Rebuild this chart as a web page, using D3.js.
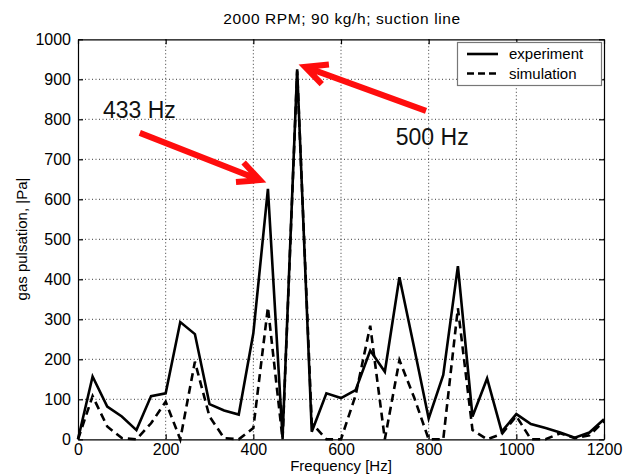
<!DOCTYPE html>
<html><head><meta charset="utf-8">
<script src="https://cdn.jsdelivr.net/npm/d3@7"></script>
<style>body{margin:0;background:#fff}svg{display:block}text{font-family:"Liberation Sans",Arial,sans-serif;fill:#000}</style>
</head><body><div id="chart"></div>
<script>
const freqs = [0,33.3,66.7,100,133.3,166.7,200,233.3,266.7,300,333.3,366.7,400,433.3,466.7,500,533.3,566.7,600,633.3,666.7,700,733.3,766.7,800,833.3,866.7,900,933.3,966.7,1000,1033.3,1066.7,1100,1133.3,1166.7,1200];
const experiment = [0,157,82,57,23,108,115,293,263,88,72,62,265,626,5,925,19,115,103,123,222,169,405,230,52,161,433,57,152,19,63,38,28,17,4,17,50];
const simulation = [0,108,32,3,0,40,94,0,194,57,3,0,28,330,0,920,40,0,0,110,284,0,198,105,0,0,328,23,0,13,58,0,0,15,3,10,45];
const xTicks = [0,200,400,600,800,1000,1200];
const yTicks = [0,100,200,300,400,500,600,700,800,900,1000];
const seriesNames = ["experiment","simulation"];
const titleText = "2000 RPM; 90 kg/h; suction line";
const xLabel = "Frequency [Hz]";
const yLabel = "gas pulsation, |Pa|";
// annotations in data coordinates
const annoLabels = [{text:"433 Hz", x:57, y:803},{text:"500 Hz", x:725, y:736}];
const annoArrows = [{x0:141,y0:766,x1:415,y1:648},{x0:794,y0:821,x1:518,y1:931}];

const W=624,H=475, L=78, R=604, T=39.3, B=439.3;
const svg = d3.select("#chart").append("svg").attr("width",W).attr("height",H);
const x = d3.scaleLinear().domain([0,1200]).range([L,R]);
const y = d3.scaleLinear().domain([0,1000]).range([B,T]);

// grid
const g = svg.append("g");
g.selectAll(".gx").data(xTicks.slice(1,-1)).join("line")
  .attr("x1",d=>x(d)).attr("x2",d=>x(d)).attr("y1",T).attr("y2",B)
  .attr("stroke","#222").attr("stroke-width",0.9).attr("stroke-dasharray","1,2.5");
g.selectAll(".gy").data(yTicks.slice(1,-1)).join("line")
  .attr("y1",d=>y(d)).attr("y2",d=>y(d)).attr("x1",L).attr("x2",R)
  .attr("stroke","#222").attr("stroke-width",0.9).attr("stroke-dasharray","1,2.5");

// axes
const fs = "16px";
const fmt = d3.format("d");
const ax = svg.append("g").attr("transform",`translate(0,${B})`).call(d3.axisBottom(x).tickValues(xTicks).tickFormat(fmt).tickSizeInner(-5).tickSizeOuter(0).tickPadding(7));
const ay = svg.append("g").attr("transform",`translate(${L},0)`).call(d3.axisLeft(y).tickValues(yTicks).tickFormat(fmt).tickSizeInner(-5).tickSizeOuter(0).tickPadding(7));
const axT = svg.append("g").attr("transform",`translate(0,${T})`).call(d3.axisTop(x).tickValues(xTicks).tickSizeInner(-5).tickSizeOuter(0).tickFormat(""));
const ayR = svg.append("g").attr("transform",`translate(${R},0)`).call(d3.axisRight(y).tickValues(yTicks).tickSizeInner(-5).tickSizeOuter(0).tickFormat(""));
[ax,ay,axT,ayR].forEach(a=>{a.selectAll("text").style("font-size",fs).style("font-family","Liberation Sans, Arial, sans-serif").attr("fill","#000");
  a.selectAll("line,path").attr("stroke","#000").attr("stroke-width",1.2);});
ax.selectAll("text").attr("dy","0.55em");
ay.selectAll("text").attr("dy","0.35em");

// lines
const line = d3.line().x((d,i)=>x(freqs[i])).y(d=>y(d));
svg.append("path").datum(experiment).attr("d",line).attr("fill","none").attr("stroke","#000").attr("stroke-width",2.6).attr("stroke-linejoin","miter");
svg.append("path").datum(simulation).attr("d",line).attr("fill","none").attr("stroke","#000").attr("stroke-width",2.6).attr("stroke-dasharray","8,5").attr("stroke-linejoin","miter");

// legend
const lg = svg.append("g");
lg.append("rect").attr("x",457.5).attr("y",42.5).attr("width",144).attr("height",43).attr("fill","#fff").attr("stroke","#777").attr("stroke-width",1.2);
seriesNames.forEach((n,i)=>{
  const yy = 54 + i*19.5;
  lg.append("line").attr("x1",467).attr("x2",498).attr("y1",yy).attr("y2",yy).attr("stroke","#000").attr("stroke-width",2.6).attr("stroke-dasharray",i? "7,4":null);
  lg.append("text").attr("x",509).attr("y",yy+5).style("font-size","15px").text(n);
});

// title and labels
svg.append("text").attr("x",342).attr("y",24).attr("text-anchor","middle").style("font-size","15.5px").style("letter-spacing","0.6px").text(titleText);
svg.append("text").attr("x",341).attr("y",470.5).attr("text-anchor","middle").style("font-size","15px").text(xLabel);
svg.append("text").attr("transform","translate(27,239) rotate(-90)").attr("text-anchor","middle").style("font-size","15px").text(yLabel);

// annotations
svg.selectAll(".al").data(annoLabels).join("text").attr("x",d=>x(d.x)).attr("y",d=>y(d.y)).style("font-size","23px").style("fill","#111").text(d=>d.text);
annoArrows.forEach(a=>{
  const x0=x(a.x0),y0=y(a.y0),x1=x(a.x1),y1=y(a.y1);
  const ang=Math.atan2(y1-y0,x1-x0), hl=24, ha=0.45;
  const p = d3.path();
  p.moveTo(x0,y0); p.lineTo(x1,y1);
  p.moveTo(x1-hl*Math.cos(ang-ha), y1-hl*Math.sin(ang-ha)); p.lineTo(x1,y1); p.lineTo(x1-hl*Math.cos(ang+ha), y1-hl*Math.sin(ang+ha));
  svg.append("path").attr("d",p.toString()).attr("fill","none").attr("stroke","#ff0d0d").attr("stroke-width",6).attr("stroke-linejoin","miter").attr("stroke-linecap","butt");
});
</script></body></html>
